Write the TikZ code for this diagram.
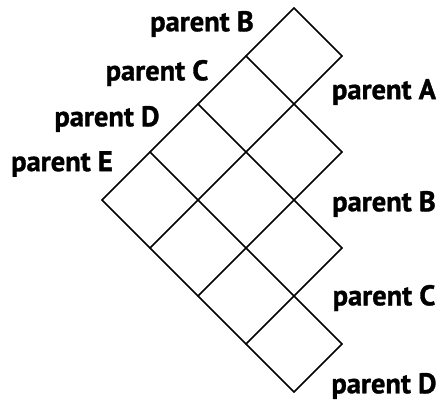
\documentclass[tikz,border=0pt]{standalone}
\usepackage{fontspec}
\setmainfont{PT Sans}[BoldFeatures={FakeBold=1.2}]
\begin{document}
\begin{tikzpicture}[x=1pt,y=-1pt,
  cell/.style={line width=1.7pt, line cap=round, line join=round},
  lbl/.style={font=\fontsize{28.5}{28.5}\selectfont\bfseries, inner sep=0pt}]
\useasboundingbox (0,0) rectangle (442,400);
% lattice corners (i,j): i steps down-left, j steps down-right
\foreach \i in {0,...,4}{
  \foreach \j in {0,...,4}{
    \coordinate (g\i\j) at ({294+48*(\j-\i)},{8+48*(\i+\j)});
  }
}
% down-left lines
\draw[cell] (g00) -- (g40);
\draw[cell] (g01) -- (g41);
\draw[cell] (g12) -- (g42);
\draw[cell] (g23) -- (g43);
\draw[cell] (g34) -- (g44);
% down-right lines
\draw[cell] (g00) -- (g01);
\draw[cell] (g10) -- (g12);
\draw[cell] (g20) -- (g23);
\draw[cell] (g30) -- (g34);
\draw[cell] (g40) -- (g44);
% labels along the upper-left edge
\node[lbl] (lB) at (202,24) {parent B};
\node[lbl] (lC) at (157,73) {parent C};
\node[lbl] (lD) at (107,119) {parent D};
\node[lbl] (lE) at (62,164) {parent E};
% labels along the right edge
\node[lbl] (rA) at (384,92) {parent A};
\node[lbl] (rB) at (384,204) {parent B};
\node[lbl] (rC) at (384,298) {parent C};
\node[lbl] (rD) at (384,386) {parent D};
\end{tikzpicture}
\end{document}
